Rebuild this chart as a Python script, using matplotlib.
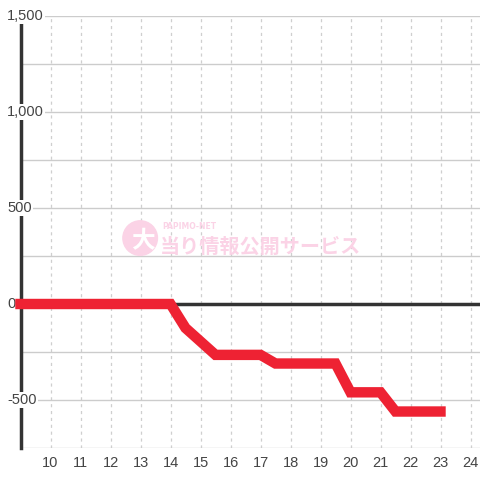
import matplotlib.pyplot as plt
import matplotlib.transforms as mtransforms
from matplotlib.patches import Circle

# data
hours = [9, 10, 11, 12, 13, 14, 14.5, 15.5, 17, 17.5, 19.5, 20, 21, 21.5, 23]
balance = [0, 0, 0, 0, 0, 0, -125, -265, -265, -310, -310, -460, -460, -560, -560]
x_ticks = list(range(10, 25))
y_ticks = [-500, 0, 500, 1000, 1500]
y_labels = ['-500', '0', '500', '1,000', '1,500']

fig = plt.figure(figsize=(4.8, 4.8), dpi=100)
ax = fig.add_axes([20.5 / 480, 32 / 480, 459.5 / 480, 432 / 480])
ax.set_xlim(9, 9 + 459.5 / 30)
ax.set_ylim(-750, 1500)

# grid
for x in x_ticks:
    ax.axvline(x, color='#cfcfcf', lw=0.9, ls=(0, (2.5, 3)), zorder=1)
for y in range(-750, 1501, 250):
    ax.axhline(y, color='#cccccc', lw=1, zorder=1)
ax.axhline(0, color='#333333', lw=2.5, zorder=2)

for s in ['top', 'right', 'bottom']:
    ax.spines[s].set_visible(False)
ax.spines['left'].set_color('#333333')
ax.spines['left'].set_linewidth(2.5)
ax.spines['left'].set_zorder(3)

ax.set_xticks(x_ticks)
ax.set_xticklabels([str(x) for x in x_ticks], fontsize=10.5, color='#444444',
                   family='Liberation Sans')
ax.tick_params(axis='x', length=0, pad=6)
ax.set_yticks([])

# y labels drawn over the spine
ylab_trans = mtransforms.blended_transform_factory(fig.transFigure, ax.transData)
for y, lab in zip(y_ticks, y_labels):
    ax.text(7 / 480, y, lab, transform=ylab_trans, ha='left', va='center',
            fontsize=10.5, color='#444444', family='Liberation Sans', zorder=4,
            bbox=dict(boxstyle='square,pad=0.1', fc='white', ec='none'))

# watermark
wm = '#fbd3e6'
fig.patches.append(Circle((0.292, 0.504), 0.036, transform=fig.transFigure, color=wm,
                          zorder=1.5))
fig.text(0.298, 0.497, '大', fontsize=17, color='white', family='Noto Sans CJK JP',
         weight='bold', ha='center', va='center', zorder=5)
fig.text(0.337, 0.528, 'PAPIMO-NET', fontsize=5.5, color=wm, family='DejaVu Sans',
         weight='bold', ha='left', va='center')
fig.text(0.332, 0.486, '当り情報公開サービス', fontsize=14.5, color=wm,
         family='Noto Sans CJK JP', weight='bold', ha='left', va='center')

ax.plot(hours, balance, color='#ee2233', lw=7.5, solid_joinstyle='miter', zorder=6,
        clip_on=False)

fig.savefig('out.png', dpi=100, facecolor='white')
